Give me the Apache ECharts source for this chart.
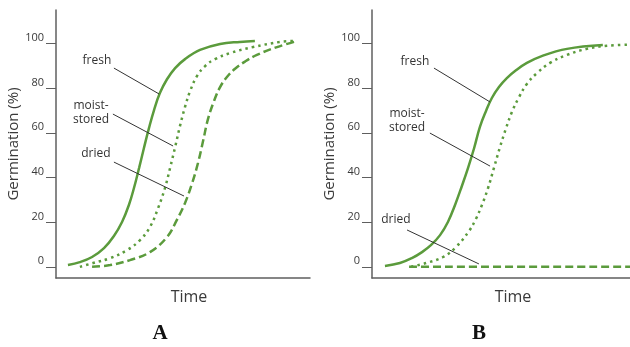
<!DOCTYPE html>
<html>
<head>
<meta charset="utf-8">
<script src="https://cdn.jsdelivr.net/npm/echarts@6/dist/echarts.min.js"></script>
<style>
  html, body { margin: 0; padding: 0; background: #fff; }
  #chart { width: 630px; height: 347px; }
</style>
</head>
<body>
<div id="chart"></div>
<script>
// time (arbitrary units) / germination (%)
const freshA = [[4.7, 0.8], [9.4, 2.1], [14.2, 4.4], [18.9, 8.4], [22.8, 13.8], [26.0, 20.1], [28.7, 27.7], [30.7, 35.3], [32.7, 44.2], [34.6, 53.1], [36.6, 62.1], [38.6, 70.2], [40.9, 77.8], [43.7, 84.0], [46.9, 89.0], [50.8, 93.0], [56.7, 97.1], [64.6, 99.8], [72.4, 100.7], [78.3, 101.1]]
const moistA = [[9.4, 0], [14.6, 1.7], [21.3, 3.9], [28.0, 7.5], [33.1, 12.0], [37.0, 17.8], [40.2, 26.3], [42.9, 35.3], [44.9, 44.2], [46.9, 53.6], [48.8, 63.0], [50.8, 71.6], [52.8, 78.7], [55.5, 85.4], [58.7, 89.9], [62.6, 93.0], [68.5, 95.7], [77.6, 98.4], [88.2, 100.7], [93.3, 101.1]]
const driedA = [[14.2, 0], [21.3, 0.8], [29.1, 3.0], [37.0, 6.6], [43.7, 13.3], [47.6, 21.0], [50.8, 28.6], [53.5, 37.1], [55.9, 46.5], [57.9, 56.3], [59.8, 66.0], [62.2, 74.2], [64.6, 80.5], [67.3, 85.0], [70.5, 88.7], [74.4, 91.9], [79.1, 94.9], [87.0, 98.4], [94.9, 101.1]]

const freshB = [[5.1, 0.4], [11.0, 1.7], [15.7, 3.9], [19.7, 6.6], [23.2, 9.7], [26.8, 14.2], [29.9, 20.1], [32.7, 27.7], [35.4, 36.2], [37.8, 44.2], [40.2, 53.1], [42.5, 62.7], [44.9, 69.8], [47.2, 75.6], [50.0, 80.5], [53.1, 84.5], [56.7, 88.0], [61.0, 91.3], [67.3, 94.6], [76.8, 97.6], [90.9, 99.3]]
const moistB = [[15.4, 0], [21.3, 1.7], [28.0, 4.4], [33.1, 8.9], [38.2, 16.0], [40.9, 21.4], [43.3, 27.7], [45.7, 35.3], [48.0, 44.2], [50.4, 53.6], [52.8, 62.1], [55.1, 69.3], [57.9, 76.0], [61.0, 81.9], [65.0, 86.8], [70.1, 91.3], [76.8, 94.9], [84.6, 97.6], [92.5, 99.0], [101.6, 99.5]]
const driedB = [[14.6, 0], [101.6, 0]]

const yTicks = [0, 20, 40, 60, 80, 100]
const panelTitles = ['A', 'B']

// callouts: label point, leader start, leader end (data coords)
const labelsA = [
  { text: 'fresh', at: [16.1, 92.2], from: [22.8, 89.0], to: [40.6, 77.4] },
  { text: 'moist-\nstored', at: [13.8, 69.1], from: [22.4, 68.4], to: [46.1, 54.1] },
  { text: 'dried', at: [15.7, 50.6], from: [22.8, 46.9], to: [50.4, 31.7] }
]
const labelsB = [
  { text: 'fresh', at: [16.9, 91.7], from: [24.4, 89.0], to: [46.5, 73.8] },
  { text: 'moist-\nstored', at: [13.8, 65.7], from: [22.8, 59.9], to: [46.5, 45.1] },
  { text: 'dried', at: [9.4, 21.0], from: [13.8, 16.5], to: [42.1, 1.3] }
]

const green = '#5b9b3c'
const font = 'Open Sans'

function yAxis(gridIndex) {
  return {
    type: 'value',
    gridIndex,
    min: -5,
    max: 115,
    name: 'Germination (%)',
    nameLocation: 'middle',
    nameGap: 22,
    nameTextStyle: { fontFamily: font, fontSize: 15, color: '#3a3a3a' },
    axisLine: { show: true, lineStyle: { color: '#5f5f5f', width: 1.5 } },
    axisTick: { show: true, length: 10, customValues: yTicks, lineStyle: { color: '#5f5f5f', width: 1 } },
    axisLabel: {
      customValues: yTicks,
      margin: 12,
      verticalAlign: 'bottom',
      fontFamily: font,
      fontSize: 11,
      color: '#3a3a3a'
    },
    splitLine: { show: false }
  }
}

function xAxis(gridIndex, max, shift) {
  return {
    type: 'value',
    gridIndex,
    min: 0,
    max,
    name: 'Time',
    nameLocation: 'middle',
    nameGap: 11,
    nameTextStyle: { fontFamily: font, fontSize: 16, color: '#3a3a3a', padding: [0, 0, 0, shift] },
    axisLine: { show: true, onZero: false, lineStyle: { color: '#5f5f5f', width: 1.5 } },
    axisTick: { show: false },
    axisLabel: { show: false },
    splitLine: { show: false }
  }
}

function curve(name, data, idx, type, labels) {
  const s = {
    name,
    type: 'line',
    xAxisIndex: idx,
    yAxisIndex: idx,
    data,
    smooth: 0.4,
    showSymbol: false,
    lineStyle: { color: green, width: 2.5, type }
  }
  if (labels) {
    s.markLine = {
      silent: true,
      symbol: ['none', 'none'],
      label: { show: false },
      lineStyle: { color: '#333', width: 1, type: 'solid' },
      data: labels.map(l => [{ coord: l.from }, { coord: l.to }])
    }
    s.markPoint = {
      silent: true,
      symbol: 'circle',
      symbolSize: 0,
      label: {
        show: true,
        position: 'inside',
        formatter: p => p.name,
        fontFamily: font,
        fontSize: 12,
        lineHeight: 14,
        color: '#333'
      },
      data: labels.map(l => ({ name: l.text, coord: l.at }))
    }
  }
  return s
}

const option = {
  animation: false,
  title: [
    { text: panelTitles[0], left: 160, top: 323, textAlign: 'center', padding: 0,
      textStyle: { fontFamily: 'Liberation Serif', fontWeight: 'bold', fontSize: 21, color: '#111' } },
    { text: panelTitles[1], left: 479, top: 323, textAlign: 'center', padding: 0,
      textStyle: { fontFamily: 'Liberation Serif', fontWeight: 'bold', fontSize: 21, color: '#111' } }
  ],
  grid: [
    { left: 56, top: 10, width: 254, height: 268 },
    { left: 372, top: 10, width: 258, height: 268 }
  ],
  xAxis: [xAxis(0, 100, 12), xAxis(1, 101.6, 24)],
  yAxis: [yAxis(0), yAxis(1)],
  series: [
    curve('fresh', freshA, 0, 'solid', labelsA),
    curve('moist-stored', moistA, 0, [2.5, 4]),
    curve('dried', driedA, 0, [8, 4]),
    curve('fresh', freshB, 1, 'solid', labelsB),
    curve('moist-stored', moistB, 1, [2.5, 4]),
    curve('dried', driedB, 1, [8, 4])
  ]
}

const chart = echarts.init(document.getElementById('chart'))
chart.setOption(option)
</script>
</body>
</html>
